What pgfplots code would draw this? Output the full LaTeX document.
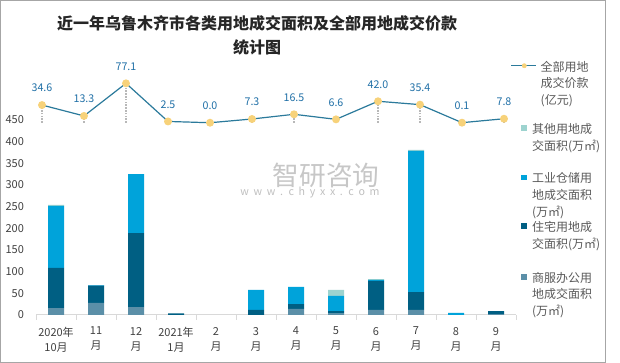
\documentclass[border=0pt]{standalone}
\usepackage{fontspec}
\setmainfont{Noto Sans CJK SC}
\usepackage{pgfplots}
\usepackage{pgfplotstable}
\pgfplotsset{compat=1.18}
\definecolor{cShang}{HTML}{5B8FA8}
\definecolor{cZhu}{HTML}{005F83}
\definecolor{cGong}{HTML}{00A3DA}
\definecolor{cQi}{HTML}{9DD3CF}
\definecolor{cLine}{HTML}{2B7A9B}
\definecolor{cMark}{HTML}{F7D27A}
\definecolor{cLab}{HTML}{1F6FA6}
\definecolor{cTick}{HTML}{404040}
\definecolor{cLeg}{HTML}{595959}
\definecolor{cAxis}{HTML}{D9D9D9}
\definecolor{cBorder}{HTML}{A6A6A6}
\pgfplotstableread{
x s z g q
0 16 93 143 2
1 28 40 1 0
2 18 171 136 0
3 0 4 0 0
4 0 0 0 0
5 0 12 46 0
6 14 11 40 0
7 3 6 35 14
8 12 67 2 2
9 12 41 326 2
10 0 0 5 0
11 2 7 0 0
}\bars
\pgfplotstableread{
x y lab
0 34.6 34.6
1 13.3 13.3
2 77.1 77.1
3 2.5 2.5
4 0.0 0.0
5 7.3 7.3
6 16.5 16.5
7 6.6 6.6
8 42.0 42.0
9 35.4 35.4
10 0.1 0.1
11 7.8 7.8
}\price
\begin{document}
\begin{tikzpicture}
\useasboundingbox (0pt,0pt) rectangle (465pt,272.25pt);
\draw[cBorder, line width=0.75pt] (0.375pt,0.375pt) rectangle (453.75pt,271.875pt);
\node[font=\fontsize{12pt}{15pt}\selectfont\bfseries, text=black!85] at (192.75pt,254.7pt) {近一年乌鲁木齐市各类用地成交面积及全部用地成交价款};
\node[font=\fontsize{12pt}{15pt}\selectfont\bfseries, text=black!85] at (192.75pt,236.7pt) {统计图};
\node[font=\fontsize{20pt}{20pt}\selectfont, text=black!22] at (244.5pt,141pt) {智研咨询};
\node[font=\fontsize{8pt}{8pt}\selectfont, text=black!25] at (232.5pt,127.5pt) {\spaceskip=3.5pt w w w . c h y x x . c o m};
\begin{axis}[
  at={(27pt,36pt)}, anchor=south west, scale only axis,
  width=360pt, height=146.25pt,
  xmin=-0.5, xmax=11.5, ymin=0, ymax=450,
  ybar stacked, bar width=12pt,
  axis x line*=bottom, axis y line*=left,
  y axis line style={draw=none},
  x axis line style={cAxis, line width=0.75pt},
  ytick={0,50,...,450}, ytick style={draw=none},
  xtick={-0.5,0.5,...,11.5},
  xtick style={cAxis, line width=0.75pt},
  tick align=outside, major tick length=3.5pt,
  xticklabels={{2020年\\10月},{11\\月},{12\\月},{2021年\\1月},{2\\月},{3\\月},{4\\月},{5\\月},{6\\月},{7\\月},{8\\月},{9\\月},{}},
  xticklabel style={xshift=15pt, yshift=-2pt, align=center, font=\fontsize{8.25pt}{11.25pt}\selectfont, text=cTick},
  yticklabel style={font=\fontsize{8.25pt}{10pt}\selectfont, text=cTick, xshift=-2pt},
  /pgf/number format/assume math mode=true,
  reverse legend,
  legend cell align=left,
  legend style={at={(axis description cs:1.0104,1.310)}, anchor=north west, draw=none, fill=none,
    inner sep=0pt, outer sep=0pt, row sep=0pt, column sep=4pt,
    font=\fontsize{9pt}{12.5pt}\selectfont, text=cLeg, nodes={inner sep=0pt}},
]
\addplot[fill=cShang, draw=none, legend image code/.code={\fill[cShang] (-2.14pt,0.38em+10.3pt-2.14pt) rectangle ++(4.28pt,4.28pt);}] table[x=x,y=s] {\bars};
\addlegendentry[text height=8.75pt, text depth=28.75pt]{\parbox[t]{75pt}{\strut 商服办公用\\地成交面积\\(万㎡)}}
\addplot[fill=cZhu, draw=none, legend image code/.code={\fill[cZhu] (-2.14pt,0.38em+10.45pt-2.14pt) rectangle ++(4.28pt,4.28pt);}] table[x=x,y=z] {\bars};
\addlegendentry[text height=8.75pt, text depth=29.05pt]{\parbox[t]{75pt}{\strut 住宅用地成\\交面积(万㎡)}}
\addplot[fill=cGong, draw=none, legend image code/.code={\fill[cGong] (-2.14pt,0.38em+9.9pt-2.14pt) rectangle ++(4.28pt,4.28pt);}] table[x=x,y=g] {\bars};
\addlegendentry[text height=8.75pt, text depth=28pt]{\parbox[t]{75pt}{\strut 工业仓储用\\地成交面积\\(万㎡)}}
\addplot[fill=cQi, draw=none, legend image code/.code={\fill[cQi] (-2.14pt,0.38em+10.05pt-2.14pt) rectangle ++(4.28pt,4.28pt);}] table[x=x,y=q] {\bars};
\addlegendentry[text height=8.75pt, text depth=28.25pt]{\parbox[t]{75pt}{\strut 其他用地成\\交面积(万㎡)}}
\addlegendimage{legend image code/.code={
  \draw[overlay, cLine, line width=0.9pt] (-9.4pt,0.38em+14.9pt) -- (9.4pt,0.38em+14.9pt);
  \fill[overlay, cMark] (0.3pt,0.38em+14.9pt) circle (1.6pt);
  \path[draw=none, fill=none] (-2.14pt,0pt) rectangle (2.14pt,0pt);}}
\addlegendentry[text height=8.75pt, text depth=37.95pt]{\hspace*{6.5pt}\parbox[t]{70pt}{\strut 全部用地\\成交价款\\(亿元)}}
\end{axis}
\begin{axis}[
  at={(15.75pt,180.2pt)}, anchor=south west, scale only axis,
  width=378pt, height=29.55pt,
  xmin=-0.5, xmax=11.5, ymin=0, ymax=77.1,
  hide axis, clip=false,
]
\addplot[ycomb, densely dotted, color=black!28, line width=1.1pt] table[x=x,y=y] {\price};
\addplot[cLine, line width=0.9pt, mark=*, mark size=2.5pt, mark options={fill=cMark, draw=cMark},
  nodes near coords, point meta=explicit symbolic,
  nodes near coords style={font=\fontsize{8pt}{8pt}\selectfont, text=cLab, anchor=center, yshift=12.75pt}]
  table[x=x,y=y,meta=lab] {\price};
\end{axis}
\end{tikzpicture}
\end{document}
